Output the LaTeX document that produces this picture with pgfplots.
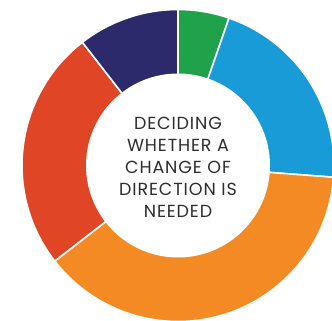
\documentclass[border=0pt]{standalone}
\usepackage{pgfplots}
\usepackage{pgfplotstable}
\pgfplotsset{compat=1.18}
\usepackage{fontspec}
\setmainfont{Poppins}[LetterSpace=5]
\definecolor{cgreen}{HTML}{1FA24A}
\definecolor{cblue}{HTML}{189BD7}
\definecolor{corange}{HTML}{F48A24}
\definecolor{cred}{HTML}{E04526}
\definecolor{cnavy}{HTML}{2D2A6C}
\definecolor{ctext}{HTML}{2E2E2E}
\pgfplotstableread{
segment value
1 5.3
2 20.9
3 38.3
4 25.0
5 10.5
}\donut
\begin{document}%
\begin{tikzpicture}
\pgfplotstablegetelem{0}{value}\of\donut\let\vA\pgfplotsretval
\pgfplotstablegetelem{1}{value}\of\donut\let\vB\pgfplotsretval
\pgfplotstablegetelem{2}{value}\of\donut\let\vC\pgfplotsretval
\pgfplotstablegetelem{3}{value}\of\donut\let\vD\pgfplotsretval
\pgfplotstablegetelem{4}{value}\of\donut\let\vE\pgfplotsretval
\pgfmathsetmacro\tot{\vA+\vB+\vC+\vD+\vE}
\pgfmathsetmacro\aA{90}
\pgfmathsetmacro\aB{90-360*\vA/\tot}
\pgfmathsetmacro\aC{\aB-360*\vB/\tot}
\pgfmathsetmacro\aD{\aC-360*\vC/\tot}
\pgfmathsetmacro\aE{\aD-360*\vD/\tot}
\pgfmathsetmacro\aF{\aE-360*\vE/\tot}
\def\Ro{156}
\def\Ri{92}
\begin{axis}[
  scale only axis,
  width=332pt, height=321pt,
  xmin=-178, xmax=154, ymin=-155.5, ymax=165.5,
  hide axis, clip=true,
]
\addplot[draw=none] coordinates {(0,0)};
\fill[cgreen, draw=white, line width=1.6pt] (axis cs:0,0) -- +(\aA:\Ro pt) arc[start angle=\aA, end angle=\aB, radius=\Ro pt] -- cycle;
\fill[cblue, draw=white, line width=1.6pt] (axis cs:0,0) -- +(\aB:\Ro pt) arc[start angle=\aB, end angle=\aC, radius=\Ro pt] -- cycle;
\fill[corange, draw=white, line width=1.6pt] (axis cs:0,0) -- +(\aC:\Ro pt) arc[start angle=\aC, end angle=\aD, radius=\Ro pt] -- cycle;
\fill[cred, draw=white, line width=1.6pt] (axis cs:0,0) -- +(\aD:\Ro pt) arc[start angle=\aD, end angle=\aE, radius=\Ro pt] -- cycle;
\fill[cnavy, draw=white, line width=1.6pt] (axis cs:0,0) -- +(\aE:\Ro pt) arc[start angle=\aE, end angle=\aF, radius=\Ro pt] -- cycle;
\fill[white] (axis cs:0,0) circle[radius=\Ri pt];
\node[align=center, text=ctext, font=\fontsize{17.5}{22}\selectfont] at (axis cs:0,-2)
  {DECIDING\\WHETHER A\\CHANGE OF\\DIRECTION IS\\NEEDED};
\end{axis}
\pgfresetboundingbox
\path (current axis.south west) rectangle (current axis.north east);
\end{tikzpicture}%
\end{document}
